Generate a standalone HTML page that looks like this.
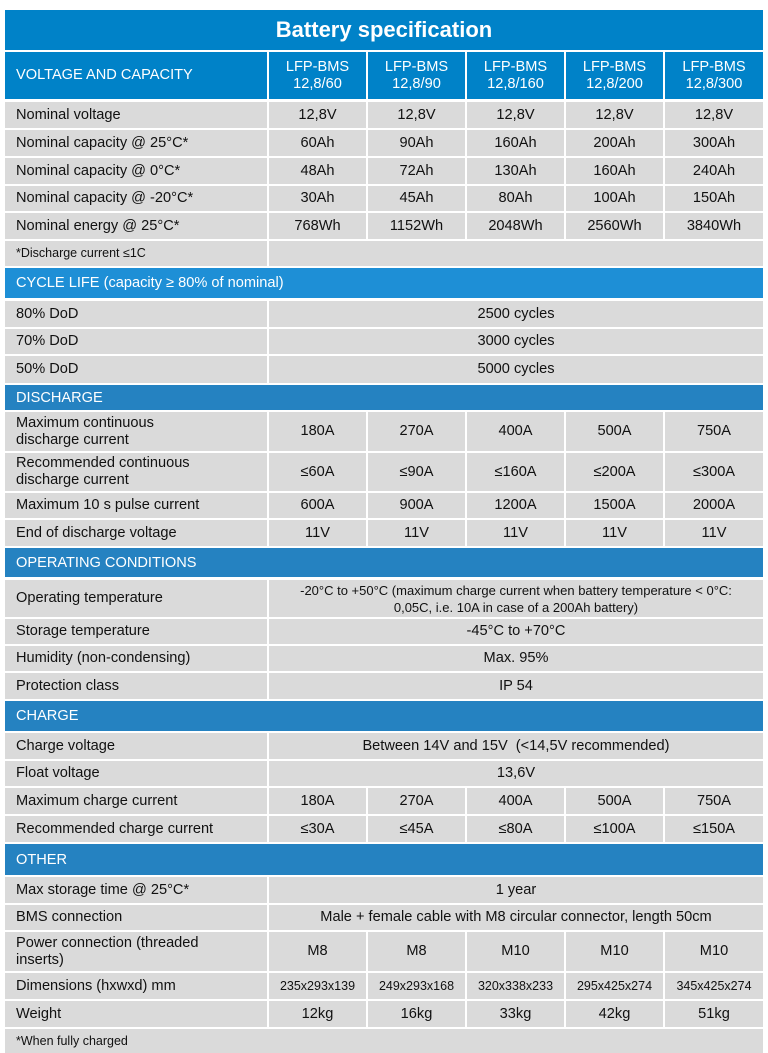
<!DOCTYPE html>
<html><head><meta charset="utf-8"><style>
body{margin:0;width:768px;height:1053px;background:#fff;position:relative;overflow:hidden;font-family:"Liberation Sans",sans-serif;font-size:14.6px;color:#111}
.r{position:absolute;left:5px;width:758px;display:flex;gap:2px}
.r>div{background:#dadada;display:flex;align-items:center;justify-content:center;text-align:center;line-height:17px}
.r>div:first-child{width:251px;justify-content:flex-start;text-align:left;padding-left:11px;flex:none}
.r>div.c{width:97px;flex:none}
.r>div.c:last-child{width:98px}
.r>div.s{flex:1}
.h{position:absolute;left:5px;width:747px;background:#2582c1;color:#fff;display:flex;align-items:center;padding-left:11px;font-size:14.6px}
.t{position:absolute;left:5px;top:10px;width:758px;height:40px;background:#0082c8;color:#fff;font-size:22px;font-weight:bold;display:flex;align-items:center;justify-content:center}
.hd>div{background:#0082c8;color:#fff}
.sm{font-size:12.5px}
</style></head><body>
<div class="t">Battery specification</div>
<div class="r hd" style="top:52px;height:47px"><div>VOLTAGE AND CAPACITY</div><div class="c">LFP-BMS<br>12,8/60</div><div class="c">LFP-BMS<br>12,8/90</div><div class="c">LFP-BMS<br>12,8/160</div><div class="c">LFP-BMS<br>12,8/200</div><div class="c">LFP-BMS<br>12,8/300</div></div>
<div class="r" style="top:102px;height:26px"><div>Nominal voltage</div><div class="c">12,8V</div><div class="c">12,8V</div><div class="c">12,8V</div><div class="c">12,8V</div><div class="c">12,8V</div></div>
<div class="r" style="top:130px;height:26px"><div>Nominal capacity @ 25°C*</div><div class="c">60Ah</div><div class="c">90Ah</div><div class="c">160Ah</div><div class="c">200Ah</div><div class="c">300Ah</div></div>
<div class="r" style="top:158px;height:26px"><div>Nominal capacity @ 0°C*</div><div class="c">48Ah</div><div class="c">72Ah</div><div class="c">130Ah</div><div class="c">160Ah</div><div class="c">240Ah</div></div>
<div class="r" style="top:186px;height:25px"><div>Nominal capacity @ -20°C*</div><div class="c">30Ah</div><div class="c">45Ah</div><div class="c">80Ah</div><div class="c">100Ah</div><div class="c">150Ah</div></div>
<div class="r" style="top:213px;height:26px"><div>Nominal energy @ 25°C*</div><div class="c">768Wh</div><div class="c">1152Wh</div><div class="c">2048Wh</div><div class="c">2560Wh</div><div class="c">3840Wh</div></div>
<div class="r" style="top:241px;height:25px"><div class="sm">*Discharge current ≤1C</div><div class="s"></div></div>
<div class="h" style="top:268px;height:30px;background:#1e8fd6">CYCLE LIFE (capacity ≥ 80% of nominal)</div>
<div class="r" style="top:301px;height:26px"><div>80% DoD</div><div class="s">2500 cycles</div></div>
<div class="r" style="top:329px;height:25px"><div>70% DoD</div><div class="s">3000 cycles</div></div>
<div class="r" style="top:356px;height:27px"><div>50% DoD</div><div class="s">5000 cycles</div></div>
<div class="h" style="top:385px;height:25px">DISCHARGE</div>
<div class="r" style="top:412px;height:39px"><div>Maximum continuous<br>discharge current</div><div class="c">180A</div><div class="c">270A</div><div class="c">400A</div><div class="c">500A</div><div class="c">750A</div></div>
<div class="r" style="top:453px;height:38px"><div>Recommended continuous<br>discharge current</div><div class="c">≤60A</div><div class="c">≤90A</div><div class="c">≤160A</div><div class="c">≤200A</div><div class="c">≤300A</div></div>
<div class="r" style="top:493px;height:25px"><div>Maximum 10 s pulse current</div><div class="c">600A</div><div class="c">900A</div><div class="c">1200A</div><div class="c">1500A</div><div class="c">2000A</div></div>
<div class="r" style="top:520px;height:26px"><div>End of discharge voltage</div><div class="c">11V</div><div class="c">11V</div><div class="c">11V</div><div class="c">11V</div><div class="c">11V</div></div>
<div class="h" style="top:548px;height:29px">OPERATING CONDITIONS</div>
<div class="r" style="top:580px;height:37px"><div>Operating temperature</div><div class="s" style="font-size:13px">-20°C to +50°C (maximum charge current when battery temperature &lt; 0°C:<br>0,05C, i.e. 10A in case of a 200Ah battery)</div></div>
<div class="r" style="top:619px;height:25px"><div>Storage temperature</div><div class="s">-45°C to +70°C</div></div>
<div class="r" style="top:646px;height:25px"><div>Humidity (non-condensing)</div><div class="s">Max. 95%</div></div>
<div class="r" style="top:673px;height:26px"><div>Protection class</div><div class="s">IP 54</div></div>
<div class="h" style="top:701px;height:30px">CHARGE</div>
<div class="r" style="top:733px;height:26px"><div>Charge voltage</div><div class="s">Between 14V and 15V&nbsp; (&lt;14,5V recommended)</div></div>
<div class="r" style="top:761px;height:25px"><div>Float voltage</div><div class="s">13,6V</div></div>
<div class="r" style="top:788px;height:26px"><div>Maximum charge current</div><div class="c">180A</div><div class="c">270A</div><div class="c">400A</div><div class="c">500A</div><div class="c">750A</div></div>
<div class="r" style="top:816px;height:26px"><div>Recommended charge current</div><div class="c">≤30A</div><div class="c">≤45A</div><div class="c">≤80A</div><div class="c">≤100A</div><div class="c">≤150A</div></div>
<div class="h" style="top:844px;height:31px">OTHER</div>
<div class="r" style="top:877px;height:26px"><div>Max storage time @ 25°C*</div><div class="s">1 year</div></div>
<div class="r" style="top:905px;height:25px"><div>BMS connection</div><div class="s">Male + female cable with M8 circular connector, length 50cm</div></div>
<div class="r" style="top:932px;height:39px"><div>Power connection (threaded<br>inserts)</div><div class="c">M8</div><div class="c">M8</div><div class="c">M10</div><div class="c">M10</div><div class="c">M10</div></div>
<div class="r" style="top:973px;height:26px"><div>Dimensions (hxwxd) mm</div><div class="c sm">235x293x139</div><div class="c sm">249x293x168</div><div class="c sm">320x338x233</div><div class="c sm">295x425x274</div><div class="c sm">345x425x274</div></div>
<div class="r" style="top:1001px;height:26px"><div>Weight</div><div class="c">12kg</div><div class="c">16kg</div><div class="c">33kg</div><div class="c">42kg</div><div class="c">51kg</div></div>
<div class="r" style="top:1029px;height:24px"><div class="sm" style="width:747px">*When fully charged</div></div>
</body></html>
